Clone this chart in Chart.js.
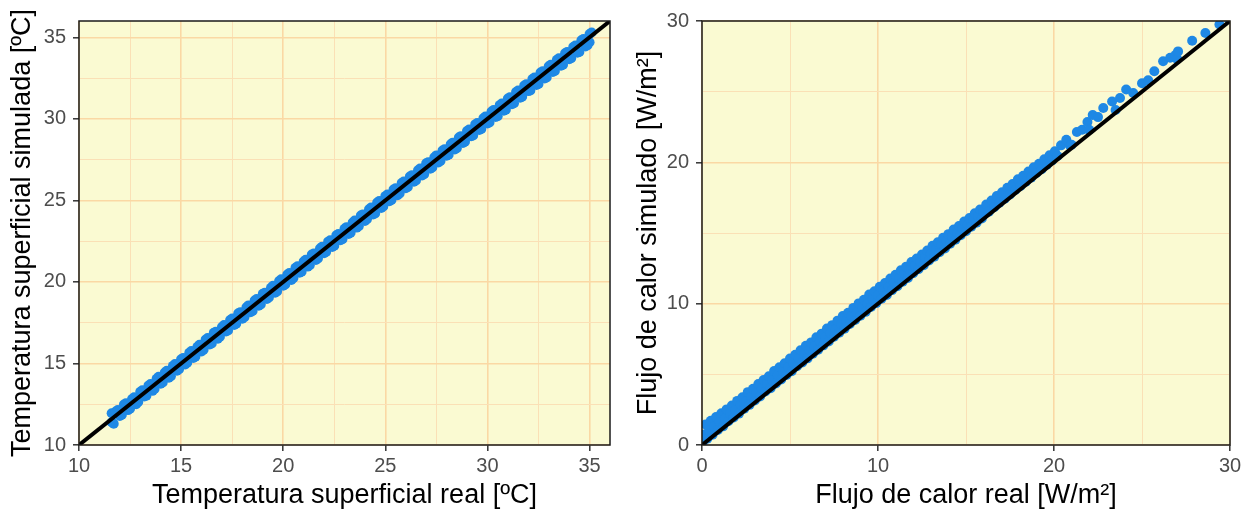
<!DOCTYPE html>
<html>
<head>
<meta charset="utf-8">
<script src="https://cdn.jsdelivr.net/npm/chart.js@4.4.1/dist/chart.umd.min.js"></script>
<style>
  body { margin: 0; background: #fff; }
  canvas { position: absolute; top: 0; }
</style>
</head>
<body>
<canvas id="chartTemp" width="627" height="513" style="left:0"></canvas>
<canvas id="chartFlujo" width="627" height="513" style="left:627px"></canvas>
<script>
// temperatura superficial: real (x) vs simulada (y)
const tempReal = [
  11.6, 11.6, 11.7, 11.8, 12.0, 12.2, 12.4, 12.6, 12.8, 13.0, 13.2, 13.4, 13.6, 13.8, 14.0, 14.2, 14.4, 14.6, 14.8,
  15.0, 15.2, 15.4, 15.6, 15.8, 16.0, 16.2, 16.4, 16.6, 16.8, 17.0, 17.2, 17.4, 17.6, 17.8, 18.0, 18.2, 18.4, 18.6, 18.8,
  19.0, 19.2, 19.4, 19.6, 19.8, 20.0, 20.2, 20.4, 20.6, 20.8, 21.0, 21.2, 21.4, 21.6, 21.8, 22.0, 22.2, 22.4, 22.6, 22.8,
  23.0, 23.2, 23.4, 23.6, 23.8, 24.0, 24.2, 24.4, 24.6, 24.8, 25.0, 25.2, 25.4, 25.6, 25.8, 26.0, 26.2, 26.4, 26.6, 26.8,
  27.0, 27.2, 27.4, 27.6, 27.8, 28.0, 28.2, 28.4, 28.6, 28.8, 29.0, 29.2, 29.4, 29.6, 29.8, 30.0, 30.2, 30.4, 30.6, 30.8,
  31.0, 31.2, 31.4, 31.6, 31.8, 32.0, 32.2, 32.4, 32.6, 32.8, 33.0, 33.2, 33.4, 33.6, 33.8, 34.0, 34.2, 34.4, 34.6, 34.8,
  35.0, 35.0, 35.1,
  11.9, 12.1, 12.3, 12.5, 12.7, 12.9, 13.1, 13.3, 13.5, 13.7, 13.9, 14.1, 14.3, 14.5, 14.7, 14.9,
  15.1, 15.3, 15.5, 15.7, 15.9, 16.1, 16.3, 16.5, 16.7, 16.9, 17.1, 17.3, 17.5, 17.7, 17.9, 18.1, 18.3, 18.5, 18.7, 18.9,
  19.1, 19.3, 19.5, 19.7, 19.9, 20.1, 20.3, 20.5, 20.7, 20.9, 21.1, 21.3, 21.5, 21.7, 21.9, 22.1, 22.3, 22.5, 22.7, 22.9,
  23.1, 23.3, 23.5, 23.7, 23.9, 24.1, 24.3, 24.5, 24.7, 24.9, 25.1, 25.3, 25.5, 25.7, 25.9, 26.1, 26.3, 26.5, 26.7, 26.9,
  27.1, 27.3, 27.5, 27.7, 27.9, 28.1, 28.3, 28.5, 28.7, 28.9, 29.1, 29.3, 29.5, 29.7, 29.9, 30.1, 30.3, 30.5, 30.7, 30.9,
  31.1, 31.3, 31.5, 31.7, 31.9, 32.1, 32.3, 32.5, 32.7, 32.9, 33.1, 33.3, 33.5, 33.7, 33.9, 34.1, 34.3, 34.5, 34.7, 34.9
];
const tempSim = [
  11.95, 11.4, 11.3, 12.05, 11.78, 12.48, 12.14, 12.82, 12.5, 13.26, 12.98, 13.64, 13.32, 14.06, 13.76, 14.44, 14.12, 14.85, 14.56,
  15.26, 14.94, 15.66, 15.34, 16.03, 15.74, 16.46, 16.16, 16.88, 16.52, 17.24, 16.96, 17.66, 17.36, 18.08, 17.74, 18.44, 18.14, 18.86, 18.54,
  19.27, 18.96, 19.64, 19.34, 20.06, 19.76, 20.46, 20.12, 20.87, 20.56, 21.25, 20.94, 21.68, 21.34, 22.05, 21.76, 22.47, 22.14, 22.86, 22.55,
  23.26, 22.94, 23.64, 23.33, 24.07, 23.74, 24.45, 24.13, 24.87, 24.54, 25.26, 24.95, 25.66, 25.32, 26.06, 25.74, 26.47, 26.15, 26.85, 26.53,
  27.27, 26.94, 27.65, 27.33, 28.06, 27.74, 28.44, 28.12, 28.86, 28.52, 29.25, 28.93, 29.66, 29.32, 30.04, 29.72, 30.45, 30.12, 30.84, 30.5,
  31.24, 30.9, 31.64, 31.3, 32.04, 31.7, 32.44, 32.08, 32.84, 32.48, 33.22, 32.88, 33.62, 33.26, 34.02, 33.66, 34.4, 34.06, 34.82, 34.44,
  35.2, 34.7, 35.3,
  12.14, 11.86, 12.56, 12.22, 12.93, 12.64, 13.36, 13.02, 13.74, 13.44, 14.18, 13.84, 14.55, 14.22, 14.96, 14.64,
  15.34, 15.04, 15.76, 15.42, 16.14, 15.84, 16.56, 16.22, 16.94, 16.64, 17.36, 17.02, 17.76, 17.44, 18.14, 17.84, 18.56, 18.22, 18.95, 18.62,
  19.34, 19.04, 19.76, 19.42, 20.16, 19.84, 20.54, 20.24, 20.96, 20.62, 21.36, 21.02, 21.74, 21.44, 22.16, 21.84, 22.56, 22.22, 22.94, 22.62,
  23.36, 23.02, 23.76, 23.42, 24.14, 23.84, 24.56, 24.2, 24.96, 24.62, 25.36, 25.02, 25.74, 25.42, 26.16, 25.82, 26.54, 26.22, 26.95, 26.6,
  27.34, 27.02, 27.76, 27.42, 28.14, 27.8, 28.54, 28.2, 28.94, 28.6, 29.34, 28.98, 29.74, 29.38, 30.14, 29.78, 30.54, 30.16, 30.94, 30.56,
  31.32, 30.96, 31.74, 31.36, 32.12, 31.74, 32.54, 32.14, 32.92, 32.54, 33.32, 32.94, 33.72, 33.32, 34.1, 33.72, 34.5, 34.1, 34.9, 34.52
];

// flujo de calor: real (x) vs simulado (y)
const flujoReal = [
  0.02, 0.1, 0.2, 0.3, 0.4, 0.5, 0.6, 0.7, 0.8, 0.9, 1.0, 1.1, 1.2, 1.3, 1.4, 1.5, 1.6, 1.7, 1.8, 1.9,
  2.0, 2.1, 2.2, 2.3, 2.4, 2.5, 2.6, 2.7, 2.8, 2.9, 3.0, 3.1, 3.2, 3.3, 3.4, 3.5, 3.6, 3.7, 3.8, 3.9,
  4.0, 4.1, 4.2, 4.3, 4.4, 4.5, 4.6, 4.7, 4.8, 4.9, 5.0, 5.1, 5.2, 5.3, 5.4, 5.5, 5.6, 5.7, 5.8, 5.9,
  6.0, 6.1, 6.2, 6.3, 6.4, 6.5, 6.6, 6.7, 6.8, 6.9, 7.0, 7.1, 7.2, 7.3, 7.4, 7.5, 7.6, 7.7, 7.8, 7.9,
  8.0, 8.1, 8.2, 8.3, 8.4, 8.5, 8.6, 8.7, 8.8, 8.9, 9.0, 9.1, 9.2, 9.3, 9.4, 9.5, 9.6, 9.7, 9.8, 9.9,
  10.0, 10.1, 10.2, 10.3, 10.4, 10.5, 10.6, 10.7, 10.8, 10.9, 11.0, 11.1, 11.2, 11.3, 11.4, 11.5, 11.6, 11.7, 11.8, 11.9,
  12.0, 12.1, 12.2, 12.3, 12.4, 12.5, 12.6, 12.7, 12.8, 12.9, 13.0, 13.1, 13.2, 13.3, 13.4, 13.5, 13.6, 13.7, 13.8, 13.9,
  14.0, 14.1, 14.2, 14.3, 14.4, 14.5, 14.6, 14.7, 14.8, 14.9, 15.0, 15.1, 15.2, 15.3, 15.4, 15.5, 15.6, 15.7, 15.8, 15.9, 16.0,
  16.15, 16.3, 16.45, 16.6, 16.75, 16.9, 17.05, 17.2, 17.35, 17.5, 17.65, 17.8, 17.95, 18.1, 18.25, 18.4, 18.55, 18.7, 18.85,
  19.0, 19.15, 19.3, 19.45, 19.6, 19.75, 19.9, 20.05, 20.2,
  20.4, 20.7, 20.9, 21.0, 21.3, 21.6, 21.9, 22.0, 22.2, 22.5, 22.8, 23.3, 23.5, 23.75, 24.1, 24.5, 25.0, 25.35,
  25.7, 26.2, 26.6, 26.9, 27.0, 27.05, 27.85, 28.6, 29.4, 29.9
];
const flujoSim = [
  0.1, 0.75, 1.45, 0.45, 1.02, 1.72, 0.72, 1.3, 1.98, 1.06, 1.65, 2.25, 1.32, 1.88, 2.52, 1.68, 2.24, 2.8, 1.94, 2.5,
  3.12, 2.22, 2.86, 3.38, 2.56, 3.08, 3.74, 2.84, 3.42, 3.98, 3.15, 3.72, 4.32, 3.43, 4.0, 4.6, 3.78, 4.34, 4.86, 4.02,
  4.58, 5.24, 4.36, 4.95, 5.5, 4.64, 5.2, 5.78, 4.95, 5.52, 6.12, 5.22, 5.78, 6.38, 5.57, 6.14, 6.7, 5.84, 6.4, 7.02,
  6.13, 6.72, 7.26, 6.46, 6.98, 7.62, 6.74, 7.34, 7.88, 7.05, 7.6, 8.24, 7.32, 7.92, 8.48, 7.66, 8.18, 8.8, 7.94, 8.54,
  9.12, 8.23, 8.8, 9.36, 8.56, 9.12, 9.7, 8.84, 9.38, 10.02, 9.15, 9.74, 10.28, 9.42, 10.0, 10.64, 9.76, 10.32, 10.88, 10.04,
  10.58, 11.2, 10.35, 10.94, 11.46, 10.62, 11.2, 11.78, 10.96, 11.52, 12.04, 11.24, 11.78, 12.36, 11.55, 12.12, 12.62, 11.82, 12.4, 12.94,
  12.16, 12.68, 13.2, 12.44, 12.96, 13.48, 12.72, 13.3, 13.76, 13.05, 13.54, 14.1, 13.32, 13.86, 14.34, 13.64, 14.18, 14.66, 13.9, 14.44,
  14.92, 14.24, 14.76, 15.24, 14.52, 15.02, 15.5, 14.84, 15.34, 15.82, 15.12, 15.6, 16.06, 15.44, 15.92, 16.4, 15.72, 16.18, 16.66, 16.02, 16.5,
  17.02, 16.5, 17.3, 16.82, 17.62, 17.14, 17.88, 17.42, 18.2, 17.72, 18.46, 18.04, 18.8, 18.32, 19.05, 18.62, 19.35, 18.92, 19.65,
  19.24, 19.9, 19.52, 20.22, 19.84, 20.5, 20.14, 20.78, 20.45,
  21.2, 21.6, 21.2, 21.25, 22.15, 22.3, 22.85, 22.3, 23.35, 23.2, 23.85, 24.3, 23.7, 24.55, 25.15, 24.9, 25.6, 25.8,
  26.45, 27.15, 27.4, 27.6, 27.3, 27.85, 28.6, 29.15, 29.75, 30.2
];

// recta 1:1
const tempLinea = [10, 36];
const flujoLinea = [0, 30];

// etiquetas de los ejes
const tempTicks = [10, 15, 20, 25, 30, 35];
const flujoTicks = [0, 10, 20, 30];

const fuente = "'Liberation Sans', Arial, sans-serif";

const panel = {
  id: "panel",
  beforeDraw(chart) {
    const { ctx, chartArea: a } = chart;
    ctx.save();
    ctx.fillStyle = "#FAFAD2";
    ctx.fillRect(a.left, a.top, a.right - a.left, a.bottom - a.top);
    ctx.restore();
  },
  afterDatasetsDraw(chart) {
    const { ctx, chartArea: a } = chart;
    ctx.save();
    ctx.strokeStyle = "#1a1a1a";
    ctx.lineWidth = 1.5;
    ctx.strokeRect(a.left, a.top, a.right - a.left, a.bottom - a.top);
    ctx.restore();
  },
};

function eje(min, max, step, labels, texto, size, titlePad, tickPad) {
  const esMayor = (c) => c.tick && labels.includes(c.tick.value);
  return {
    type: "linear",
    min: min,
    max: max,
    afterFit(scale) {
      if (scale.isHorizontal()) scale.height = size;
      else scale.width = size;
    },
    ticks: {
      stepSize: step,
      includeBounds: false,
      autoSkip: false,
      maxRotation: 0,
      color: "#4D4D4D",
      font: { family: fuente, size: 20 },
      padding: tickPad,
      callback: (v) => (labels.includes(v) ? String(v) : ""),
    },
    grid: {
      color: (c) => (esMayor(c) ? "rgb(250,216,164)" : "rgb(250,224,182)"),
      lineWidth: (c) => (esMayor(c) ? 1.6 : 1),
      tickColor: (c) => (esMayor(c) ? "#333333" : "rgba(0,0,0,0)"),
      tickLength: 6,
      tickWidth: 1.5,
    },
    border: { display: false },
    title: {
      display: true,
      text: texto,
      color: "#000",
      font: { family: fuente, size: 27 },
      padding: titlePad,
    },
  };
}

function grafico(id, xs, ys, linea, ejeX, ejeY, pad) {
  return new Chart(document.getElementById(id), {
    type: "scatter",
    data: {
      datasets: [
        {
          data: linea.map((v) => ({ x: v, y: v })),
          showLine: true,
          borderColor: "#000",
          borderWidth: 4,
          pointRadius: 0,
          clip: 0,
          order: 0,
        },
        {
          data: xs.map((x, i) => ({ x: x, y: ys[i] })),
          backgroundColor: "#1E88E5",
          pointRadius: 5,
          pointBorderWidth: 0,
          clip: 0,
          order: 1,
        },
      ],
    },
    options: {
      responsive: false,
      devicePixelRatio: 1,
      animation: false,
      layout: { padding: pad },
      plugins: { legend: { display: false }, tooltip: { enabled: false } },
      scales: { x: ejeX, y: ejeY },
    },
    plugins: [panel],
  });
}

grafico(
  "chartTemp", tempReal, tempSim, tempLinea,
  eje(10, 36, 2.5, tempTicks, "Temperatura superficial real [ºC]", 68, { top: 0, bottom: 1 }, 3),
  eje(10, 36, 2.5, tempTicks, "Temperatura superficial simulada [ºC]", 79, { top: 6, bottom: 0 }, 7),
  { top: 21, right: 17, left: 0, bottom: 0 }
);

grafico(
  "chartFlujo", flujoReal, flujoSim, flujoLinea,
  eje(0, 30, 5, flujoTicks, "Flujo de calor real [W/m²]", 68, { top: 0, bottom: 1 }, 3),
  eje(0, 30, 5, flujoTicks, "Flujo de calor simulado [W/m²]", 75, { top: 5, bottom: 0 }, 7),
  { top: 21, right: 24, left: 0, bottom: 0 }
);
</script>
</body>
</html>
